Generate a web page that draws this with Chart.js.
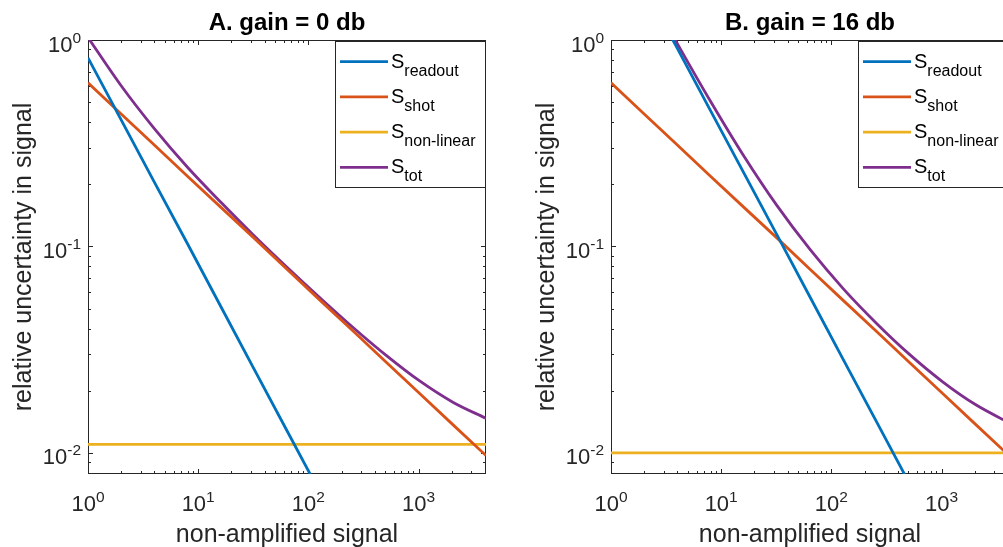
<!DOCTYPE html>
<html>
<head>
<meta charset="utf-8">
<script src="https://cdn.jsdelivr.net/npm/chart.js@4.4.1/dist/chart.umd.min.js"></script>
<style>
  html, body { margin: 0; padding: 0; background: #fff; overflow: hidden; }
  body { width: 1003px; height: 547px; position: relative; }
  canvas { position: absolute; top: 0; }
  #panelA { left: 0; }
  #panelB { left: 523px; }
</style>
</head>
<body>
<canvas id="panelA" width="500" height="547"></canvas>
<canvas id="panelB" width="500" height="547"></canvas>
<script>
// non-amplified signal, one sample per octave
const signal = [1, 2, 4, 8, 16, 32, 64, 128, 256, 512, 1024, 2048, 4096];

// A. gain = 0 db
const readoutA   = [0.82, 0.41, 0.205, 0.103, 0.0513, 0.0256, 0.0128, 0.0064, 0.0032, 0.0016, 0.0008, 0.0004, 0.0002];
const shotA      = [0.62, 0.438, 0.31, 0.219, 0.155, 0.110, 0.0775, 0.0548, 0.0388, 0.0274, 0.0194, 0.0137, 0.0097];
const nonlinearA = [0.011, 0.011, 0.011, 0.011, 0.011, 0.011, 0.011, 0.011, 0.011, 0.011, 0.011, 0.011, 0.011];
const totA       = [1.028, 0.600, 0.372, 0.242, 0.164, 0.113, 0.0793, 0.0563, 0.0404, 0.0296, 0.0223, 0.0176, 0.0147];

// B. gain = 16 db
const readoutB   = [3.64, 1.82, 0.91, 0.455, 0.228, 0.114, 0.0569, 0.0284, 0.0142, 0.0071, 0.00355, 0.00178, 0.00089];
const shotB      = [0.62, 0.438, 0.31, 0.219, 0.155, 0.110, 0.0775, 0.0548, 0.0388, 0.0274, 0.0194, 0.0137, 0.0097];
const nonlinearB = [0.010, 0.010, 0.010, 0.010, 0.010, 0.010, 0.010, 0.010, 0.010, 0.010, 0.010, 0.010, 0.010];
const totB       = [3.69, 1.872, 0.961, 0.505, 0.275, 0.158, 0.0967, 0.0625, 0.0425, 0.0300, 0.0221, 0.0171, 0.0140];

const seriesNames = ['readout', 'shot', 'non-linear', 'tot'];
const seriesColors = ['#0072BD', '#D95319', '#EDB120', '#7E2F8E'];
const xTickExp = [0, 1, 2, 3];
const yTickExp = [-2, -1, 0];
const xRange = [1, 4096];
const yRange = [0.0079, 1];

const AX = '#262626';
const FONT = '"Liberation Sans", Arial, Helvetica, sans-serif';

// "10" with a raised exponent; align = 'center' or 'right'
function powerLabel(ctx, exp, x, y, align) {
  ctx.font = '22px ' + FONT;
  const base = '10';
  const wBase = ctx.measureText(base).width;
  ctx.font = '15.5px ' + FONT;
  const sup = String(exp);
  const wSup = ctx.measureText(sup).width;
  const start = align === 'center' ? x - (wBase + wSup) / 2 : x - wBase - wSup;
  ctx.textAlign = 'left';
  ctx.textBaseline = 'alphabetic';
  ctx.font = '22px ' + FONT;
  ctx.fillText(base, start, y);
  ctx.font = '15.5px ' + FONT;
  ctx.fillText(sup, start + wBase, y - 9);
}

const matlabAxes = {
  id: 'matlabAxes',
  beforeDatasetsDraw(chart, args, opts) {
    const { ctx, chartArea: a, scales } = chart;
    const xs = scales.x, ys = scales.y;
    ctx.save();
    ctx.strokeStyle = AX;
    ctx.lineWidth = 1;
    ctx.strokeRect(a.left + 0.5, a.top + 0.5, a.right - a.left - 1, a.bottom - a.top - 1);
    ctx.beginPath();
    // log ticks on all four sides, pointing inward
    for (let k = -3; k <= 4; k++) {
      for (let m = 1; m <= 9; m++) {
        const v = m * Math.pow(10, k);
        const len = m === 1 ? 5 : 3;
        if (v >= xRange[0] && v <= xRange[1]) {
          const px = Math.round(xs.getPixelForValue(v)) + 0.5;
          ctx.moveTo(px, a.bottom); ctx.lineTo(px, a.bottom - len);
          ctx.moveTo(px, a.top); ctx.lineTo(px, a.top + len);
        }
        if (v >= yRange[0] && v <= yRange[1]) {
          const py = Math.round(ys.getPixelForValue(v)) + 0.5;
          ctx.moveTo(a.left, py); ctx.lineTo(a.left + len, py);
          ctx.moveTo(a.right, py); ctx.lineTo(a.right - len, py);
        }
      }
    }
    ctx.stroke();
    ctx.restore();
  },
  afterDraw(chart, args, opts) {
    const { ctx, chartArea: a, scales } = chart;
    const xs = scales.x, ys = scales.y;
    ctx.save();
    ctx.fillStyle = AX;

    xTickExp.forEach(e => powerLabel(ctx, e, xs.getPixelForValue(Math.pow(10, e)), 511, 'center'));
    yTickExp.forEach(e => powerLabel(ctx, e, a.left - 7, ys.getPixelForValue(Math.pow(10, e)) + 11.5, 'right'));

    const cx = (a.left + a.right) / 2;
    ctx.textAlign = 'center';
    ctx.textBaseline = 'alphabetic';
    ctx.fillStyle = '#000';
    ctx.font = 'bold 24px ' + FONT;
    ctx.fillText(opts.title, cx, 30);

    ctx.fillStyle = AX;
    ctx.font = '25px ' + FONT;
    ctx.fillText('non-amplified signal', cx, 542);
    ctx.save();
    ctx.translate(31, (a.top + a.bottom) / 2);
    ctx.rotate(-Math.PI / 2);
    ctx.fillText('relative uncertainty in signal', 0, 0);
    ctx.restore();

    // legend box in the top right corner
    const lx = a.left + 247, ly = a.top + 1, lw = 150, lh = 146;
    ctx.fillStyle = '#fff';
    ctx.fillRect(lx, ly, lw, lh);
    ctx.strokeStyle = AX;
    ctx.lineWidth = 1;
    ctx.strokeRect(lx + 0.5, ly + 0.5, lw, lh);
    chart.data.datasets.forEach((ds, i) => {
      const ry = ly + 20.7 + i * 35.2;
      ctx.strokeStyle = ds.borderColor;
      ctx.lineWidth = 2.8;
      ctx.beginPath();
      ctx.moveTo(lx + 5, ry);
      ctx.lineTo(lx + 53, ry);
      ctx.stroke();
      ctx.fillStyle = '#000';
      ctx.textAlign = 'left';
      ctx.font = '20px ' + FONT;
      ctx.fillText('S', lx + 56, ry + 5.8);
      const ws = ctx.measureText('S').width;
      ctx.font = '16px ' + FONT;
      ctx.fillText(seriesNames[i], lx + 56 + ws, ry + 14);
    });
    ctx.restore();
  }
};

function makePanel(id, title, series) {
  return new Chart(document.getElementById(id), {
    type: 'line',
    data: {
      labels: signal,
      datasets: series.map((vals, i) => ({
        label: 'S ' + seriesNames[i],
        data: vals,
        borderColor: seriesColors[i],
        borderWidth: 2.8,
        pointRadius: 0,
        fill: false,
        cubicInterpolationMode: i === 3 ? 'monotone' : 'default',
        tension: 0
      }))
    },
    options: {
      responsive: false,
      animation: false,
      events: [],
      layout: { padding: { left: 88, right: 14, top: 40, bottom: 73 } },
      scales: {
        x: { type: 'logarithmic', min: xRange[0], max: xRange[1], display: false },
        y: { type: 'logarithmic', min: yRange[0], max: yRange[1], display: false }
      },
      plugins: {
        legend: { display: false },
        tooltip: { enabled: false },
        matlabAxes: { title: title }
      }
    },
    plugins: [matlabAxes]
  });
}

makePanel('panelA', 'A. gain = 0 db', [readoutA, shotA, nonlinearA, totA]);
makePanel('panelB', 'B. gain = 16 db', [readoutB, shotB, nonlinearB, totB]);
</script>
</body>
</html>
